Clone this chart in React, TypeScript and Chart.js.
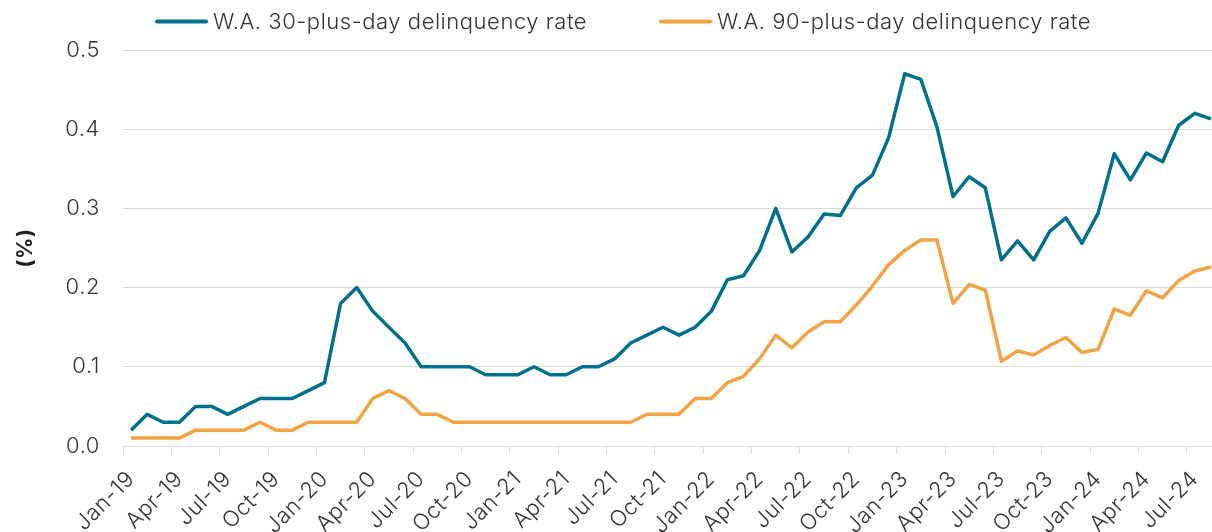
import React, { useEffect, useRef } from "react";
import { Chart, registerables } from "chart.js";

Chart.register(...registerables);

const months = [
  "Jan-19", "Feb-19", "Mar-19", "Apr-19", "May-19", "Jun-19", "Jul-19", "Aug-19", "Sep-19", "Oct-19", "Nov-19", "Dec-19",
  "Jan-20", "Feb-20", "Mar-20", "Apr-20", "May-20", "Jun-20", "Jul-20", "Aug-20", "Sep-20", "Oct-20", "Nov-20", "Dec-20",
  "Jan-21", "Feb-21", "Mar-21", "Apr-21", "May-21", "Jun-21", "Jul-21", "Aug-21", "Sep-21", "Oct-21", "Nov-21", "Dec-21",
  "Jan-22", "Feb-22", "Mar-22", "Apr-22", "May-22", "Jun-22", "Jul-22", "Aug-22", "Sep-22", "Oct-22", "Nov-22", "Dec-22",
  "Jan-23", "Feb-23", "Mar-23", "Apr-23", "May-23", "Jun-23", "Jul-23", "Aug-23", "Sep-23", "Oct-23", "Nov-23", "Dec-23",
  "Jan-24", "Feb-24", "Mar-24", "Apr-24", "May-24", "Jun-24", "Jul-24", "Aug-24",
];

const rate30 = [
  0.02, 0.04, 0.03, 0.03, 0.05, 0.05, 0.04, 0.05, 0.06, 0.06, 0.06, 0.07,
  0.08, 0.18, 0.2, 0.17, 0.15, 0.13, 0.1, 0.1, 0.1, 0.1, 0.09, 0.09,
  0.09, 0.1, 0.09, 0.09, 0.1, 0.1, 0.11, 0.13, 0.14, 0.15, 0.14, 0.15,
  0.17, 0.21, 0.215, 0.247, 0.3, 0.245, 0.264, 0.293, 0.291, 0.326, 0.342, 0.389,
  0.47, 0.463, 0.403, 0.315, 0.34, 0.326, 0.235, 0.259, 0.235, 0.271, 0.288, 0.256,
  0.294, 0.369, 0.336, 0.37, 0.359, 0.405, 0.42, 0.413,
];

const rate90 = [
  0.01, 0.01, 0.01, 0.01, 0.02, 0.02, 0.02, 0.02, 0.03, 0.02, 0.02, 0.03,
  0.03, 0.03, 0.03, 0.06, 0.07, 0.06, 0.04, 0.04, 0.03, 0.03, 0.03, 0.03,
  0.03, 0.03, 0.03, 0.03, 0.03, 0.03, 0.03, 0.03, 0.04, 0.04, 0.04, 0.06,
  0.06, 0.08, 0.088, 0.11, 0.14, 0.124, 0.144, 0.157, 0.157, 0.178, 0.202, 0.229,
  0.247, 0.26, 0.26, 0.18, 0.204, 0.197, 0.107, 0.12, 0.115, 0.127, 0.137, 0.118,
  0.122, 0.173, 0.165, 0.196, 0.187, 0.209, 0.221, 0.226,
];

const seriesNames = ["W.A. 30-plus-day delinquency rate", "W.A. 90-plus-day delinquency rate"];
const yTicks = [0, 0.1, 0.2, 0.3, 0.4, 0.5];
const yTitle = "(%)";

const BLUE = "#00708c";
const ORANGE = "#f2a444";
const TEXT = "#333333";
const GRID = "#dcdcdc";
const FONT = "Inter, Roboto, sans-serif";
const SPACING = "0.55px";

export default function App() {
  const ref = useRef<HTMLCanvasElement>(null);

  useEffect(() => {
    const canvas = ref.current;
    if (!canvas) return;

    const spacingPlugin = {
      id: "letterSpacing",
      beforeLayout(chart: any) {
        chart.ctx.letterSpacing = SPACING;
      },
      beforeDraw(chart: any) {
        chart.ctx.letterSpacing = SPACING;
      },
    };

    const legendPlugin = {
      id: "customLegend",
      afterDraw(chart: any) {
        const ctx = chart.ctx;
        const items = [
          { x: 155, text: seriesNames[0], color: BLUE },
          { x: 659, text: seriesNames[1], color: ORANGE },
        ];
        ctx.save();
        ctx.letterSpacing = SPACING;
        items.forEach((it) => {
          ctx.beginPath();
          ctx.strokeStyle = it.color;
          ctx.lineWidth = 4;
          ctx.lineCap = "round";
          ctx.moveTo(it.x + 2, 21.5);
          ctx.lineTo(it.x + 51, 21.5);
          ctx.stroke();
          ctx.fillStyle = TEXT;
          ctx.font = `300 22px ${FONT}`;
          ctx.textBaseline = "middle";
          ctx.textAlign = "left";
          ctx.fillText(it.text, it.x + 58, 22);
        });
        ctx.restore();
      },
    };

    const chart = new Chart(canvas, {
      type: "line",
      data: {
        labels: months,
        datasets: [
          {
            label: seriesNames[0],
            data: rate30,
            borderColor: BLUE,
            backgroundColor: BLUE,
            borderWidth: 3.5,
            pointRadius: 0,
            tension: 0,
          },
          {
            label: seriesNames[1],
            data: rate90,
            borderColor: ORANGE,
            backgroundColor: ORANGE,
            borderWidth: 3.5,
            pointRadius: 0,
            tension: 0,
          },
        ],
      },
      options: {
        responsive: false,
        animation: false,
        devicePixelRatio: 1,
        layout: { padding: { top: 50, left: 0, right: 0, bottom: 0 } },
        plugins: {
          legend: { display: false },
          tooltip: { enabled: false },
        },
        elements: {
          line: { borderJoinStyle: "round", borderCapStyle: "butt" },
        },
        scales: {
          x: {
            type: "category",
            offset: true,
            grid: {
              offset: true,
              drawOnChartArea: false,
              drawTicks: true,
              tickLength: 8,
              tickColor: (c: any) => (c.index % 3 === 0 ? GRID : "rgba(0,0,0,0)"),
            },
            border: { display: true, color: GRID, width: 1 },
            ticks: {
              autoSkip: false,
              maxRotation: 45,
              minRotation: 45,
              padding: 12,
              color: TEXT,
              font: { family: FONT, size: 22, weight: "300" as any },
              callback: (_v: any, i: number) => (i % 3 === 0 ? months[i] : ""),
            },
            afterFit: (s: any) => {
              s.height = 86;
              s.paddingLeft = 0;
              s.paddingRight = 0;
            },
          },
          y: {
            min: 0,
            max: 0.5,
            afterBuildTicks: (s: any) => {
              s.ticks = yTicks.map((v) => ({ value: v }));
            },
            grid: { color: GRID, drawTicks: false, lineWidth: 1 },
            border: { display: false },
            ticks: {
              padding: 23,
              color: TEXT,
              font: { family: FONT, size: 22, weight: "300" as any },
              callback: (v: any) => Number(v).toFixed(1),
            },
            title: {
              display: true,
              text: yTitle,
              color: "#222222",
              font: { family: FONT, size: 21, weight: "bold" },
              padding: { top: 13, bottom: 0 },
            },
            afterFit: (s: any) => {
              s.width = 123;
              s.paddingTop = 0;
              s.paddingBottom = 0;
            },
          },
        },
      },
      plugins: [spacingPlugin, legendPlugin],
    });

    return () => chart.destroy();
  }, []);

  return (
    <div
      style={{
        position: "fixed",
        left: 0,
        top: 0,
        width: 1212,
        height: 532,
        overflow: "hidden",
        background: "#ffffff",
      }}
    >
      <canvas ref={ref} width={1219} height={532} style={{ display: "block", width: 1219, height: 532 }} />
    </div>
  );
}
